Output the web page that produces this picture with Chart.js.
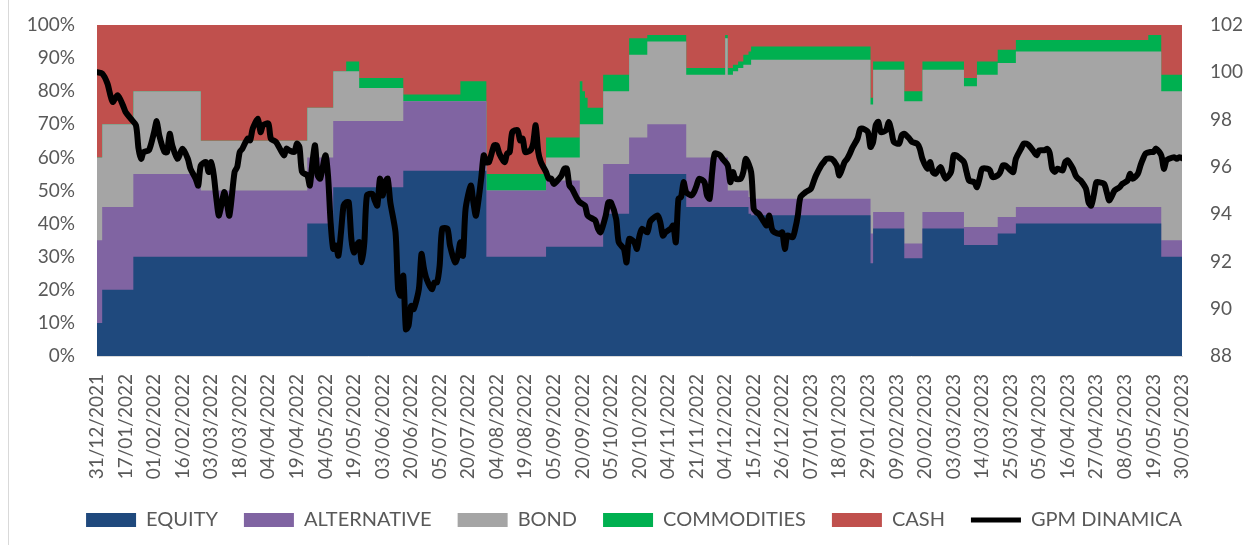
<!DOCTYPE html>
<html>
<head>
<meta charset="utf-8">
<title>GPM DINAMICA</title>
<script src="https://cdn.jsdelivr.net/npm/chart.js@4.4.1/dist/chart.umd.min.js"></script>
<style>
  html, body { margin: 0; padding: 0; background: #fff; }
  #wrap { position: relative; width: 1260px; height: 545px; }
  #wrap:before { content: ''; position: absolute; left: 8px; top: 0; bottom: 0; border-left: 1px solid #d9d9d9; }
</style>
</head>
<body>
<div id="wrap"><canvas id="chart" width="1260" height="545"></canvas></div>
<script>
// x axis labels, one every 11 observations
const tickLabels = ['31/12/2021', '17/01/2022', '01/02/2022', '16/02/2022', '03/03/2022', '18/03/2022',
  '04/04/2022', '19/04/2022', '04/05/2022', '19/05/2022', '03/06/2022', '20/06/2022', '05/07/2022',
  '20/07/2022', '04/08/2022', '19/08/2022', '05/09/2022', '20/09/2022', '05/10/2022', '20/10/2022',
  '04/11/2022', '21/11/2022', '04/12/2022', '15/12/2022', '26/12/2022', '07/01/2023', '18/01/2023',
  '29/01/2023', '09/02/2023', '20/02/2023', '03/03/2023', '14/03/2023', '25/03/2023', '05/04/2023',
  '16/04/2023', '27/04/2023', '08/05/2023', '19/05/2023', '30/05/2023'];
const tickStep = 11;
const lastObs = 418;

// allocation changes: observation index where a new weight set starts (%)
const stepObs     = [0, 2, 14, 40, 81, 91, 96, 101, 118, 140, 150, 173, 186, 187, 188, 189, 195, 205, 212, 227, 242, 243, 245, 247, 249, 251, 252, 298, 299, 311, 318, 334, 339, 347, 354, 405, 410, 418];
const equity      = [10, 20, 30, 30, 40, 51, 51, 51, 56, 56, 30, 33, 33, 33, 33, 33, 43, 55, 55, 45, 45, 45, 45, 45, 45, 43, 42.5, 28, 38.5, 29.5, 38.5, 33.5, 33.5, 37, 40, 40, 30, 30];
const alternative = [25, 25, 25, 20, 20, 20, 20, 20, 21, 21, 20, 20, 15, 15, 15, 15, 15, 11, 15, 15, 15, 5, 5, 5, 5, 5, 5, 9, 5, 4.5, 5, 5.5, 5.5, 5, 5, 5, 5, 5];
const bond        = [25, 25, 25, 15, 15, 15, 15, 10, 0, 0, 0, 7, 22, 22, 22, 22, 22, 25, 25, 25, 36, 35, 36, 37, 38, 40, 42, 39, 43, 43, 43, 42.5, 46, 46.5, 47, 47, 45, 45];
const commodities = [0, 0, 0, 0, 0, 0, 3, 3, 2, 6, 5, 6, 13, 10, 8, 5, 5, 5, 2, 2, 1, 2, 2, 2, 3, 4, 4, 2, 2.5, 3, 2.5, 2.5, 4, 4, 3.5, 5, 5, 5];
const cash        = [40, 30, 20, 35, 25, 14, 11, 16, 21, 17, 45, 34, 17, 20, 22, 25, 15, 4, 3, 13, 3, 13, 12, 11, 9, 8, 6.5, 22, 11, 20, 11, 16, 11, 7.5, 4.5, 3, 15, 15];

// GPM DINAMICA (right axis)
const gpmObs = [0, 2, 4, 6, 8, 10, 11, 13, 15, 16, 17, 18, 20, 22, 23, 24, 26, 27, 28, 29, 31, 33, 35, 36, 38, 39,
  40, 42, 43, 44, 45, 46, 47, 49, 50, 51, 53, 54, 55, 56, 58, 59, 60, 62, 63, 64, 66, 67, 69, 72, 73, 74, 76, 77,
  78, 79, 81, 82, 83, 84, 85, 86, 88, 89, 90, 91, 92, 93, 94, 95, 96, 97, 98, 99, 100, 101, 102, 103, 104, 106,
  107, 108, 109, 110, 111, 112, 113, 115, 116, 117, 118, 119, 120, 121, 122, 124, 125, 126, 127, 129, 130, 131,
  132, 133, 135, 136, 138, 139, 140, 141, 142, 144, 145, 146, 148, 149, 150, 151, 153, 154, 155, 157, 158, 159,
  160, 162, 163, 164, 165, 167, 168, 169, 170, 171, 173, 174, 175, 176, 178, 179, 180, 181, 182, 183, 185, 186,
  188, 189, 191, 192, 193, 194, 196, 197, 198, 200, 201, 203, 204, 205, 207, 208, 209, 210, 212, 213, 214, 216,
  217, 218, 219, 221, 222, 223, 224, 225, 226, 227, 229, 230, 231, 232, 234, 235, 236, 237, 238, 240, 241, 243,
  244, 245, 246, 248, 249, 250, 252, 253, 254, 255, 257, 258, 259, 260, 261, 263, 264, 265, 266, 268, 269, 270,
  271, 273, 275, 276, 277, 279, 280, 281, 283, 285, 286, 288, 289, 290, 291, 293, 294, 295, 297, 298, 299, 300,
  301, 302, 304, 305, 306, 307, 309, 310, 311, 313, 314, 316, 317, 318, 320, 321, 322, 323, 325, 326, 327, 329,
  330, 331, 332, 334, 335, 336, 338, 339, 340, 341, 343, 344, 345, 347, 348, 349, 350, 352, 353, 354, 356, 357,
  358, 359, 361, 362, 363, 365, 366, 367, 368, 369, 370, 372, 373, 374, 376, 377, 378, 379, 381, 382, 383, 384,
  385, 386, 388, 389, 390, 392, 393, 394, 395, 397, 398, 399, 401, 402, 403, 404, 406, 407, 408, 410, 411, 412,
  413, 415, 416, 417, 418];
const gpmValue = [100.0, 99.95, 99.53, 98.75, 99.03, 98.6, 98.32, 98.04, 97.76, 96.77, 96.34, 96.63, 96.7, 97.47,
  97.93, 97.33, 96.63, 96.63, 97.4, 96.91, 96.34, 96.77, 96.34, 95.92, 95.5, 95.21,
  96.06, 96.2, 95.78, 96.2, 95.64, 94.65, 93.94, 94.93, 94.5, 93.94, 95.78, 95.99, 96.63, 96.77, 97.19, 97.12,
  97.62, 98.04, 97.47, 97.76, 97.83, 97.19, 97.05, 96.49, 96.77, 96.7, 96.63, 96.98,
  96.84, 95.78, 95.64, 95.21, 96.2, 96.91, 95.64, 95.5, 96.49, 95.64, 93.66, 92.53, 92.67, 92.24, 93.23, 94.36,
  94.5, 94.5, 92.95, 92.38, 92.67, 92.81, 91.96, 92.81, 94.79, 94.86,
  94.58, 94.36, 95.5, 94.79, 95.35, 95.5, 94.5, 93.23, 90.83, 90.55, 91.39, 89.13, 89.27, 90.12, 89.98, 90.83,
  92.31, 91.68, 91.25, 90.83, 91.11, 91.11,
  91.82, 93.38, 93.38, 92.67, 91.96, 92.24, 92.81, 92.24, 94.22, 95.21, 94.5, 93.94, 95.5, 96.49, 96.2, 96.2,
  96.91, 96.91, 96.56, 96.2, 96.56, 96.63,
  97.47, 97.55, 97.12, 97.19, 96.63, 96.7, 96.98, 97.76, 96.63, 96.2, 95.78, 95.5, 95.5, 95.28, 95.5, 95.64,
  95.92, 95.92, 95.21, 95.07, 94.65, 94.5,
  94.36, 93.94, 93.8, 93.73, 93.38, 93.23, 93.94, 94.5, 94.5, 93.8, 92.81, 92.53, 91.96, 92.95, 92.81, 92.53,
  93.09, 93.38, 93.23, 93.66, 93.8, 93.94,
  93.66, 93.09, 93.23, 93.38, 93.52, 92.81, 94.65, 94.72, 95.35, 94.93, 94.79, 94.93, 95.21, 95.5, 95.35, 94.79,
  94.65, 95.78, 96.56, 96.49, 96.34, 96.06,
  95.35, 95.78, 95.5, 95.5, 95.78, 96.34, 95.78, 94.22, 94.08, 94.01, 93.66, 93.52, 93.94, 93.38, 93.23, 93.16,
  93.23, 92.53, 93.09, 93.02, 93.38, 93.94,
  94.72, 94.93, 95.07, 95.35, 95.64, 96.06, 96.2, 96.34, 96.34, 96.06, 95.64, 96.2, 96.34, 96.55, 96.8, 97.2,
  97.6, 97.62, 97.47, 96.84, 97.05, 97.76,
  97.9, 97.47, 97.55, 97.9, 97.55, 97.05, 96.98, 97.33, 97.4, 97.19, 97.05, 96.98, 96.77, 96.34, 95.92, 96.2,
  95.78, 95.71, 95.99, 95.71, 95.5, 95.78,
  96.49, 96.49, 96.41, 96.2, 95.78, 95.42, 95.35, 95.14, 95.5, 95.92, 95.92, 95.85, 95.57, 95.64, 95.78, 96.06,
  96.06, 95.85, 95.78, 96.34, 96.77, 96.98,
  96.98, 96.91, 96.63, 96.49, 96.7, 96.7, 96.77, 96.6, 95.92, 95.78, 95.92, 95.85, 96.2, 96.27, 95.92, 95.64,
  95.5, 95.42, 95.07, 94.5, 94.36, 94.79,
  95.35, 95.35, 95.28, 94.93, 94.58, 95.0, 95.07, 95.14, 95.28, 95.42, 95.71, 95.5, 95.71, 96.06, 96.34, 96.56,
  96.63, 96.63, 96.77, 96.49, 95.92, 96.27,
  96.34, 96.41, 96.34, 96.41, 96.37];

const seriesNames = ['EQUITY', 'ALTERNATIVE', 'BOND', 'COMMODITIES', 'CASH', 'GPM DINAMICA'];
const seriesColors = ['#1f497d', '#8064a2', '#a5a5a5', '#00b050', '#c0504d', '#000000'];

function toPoints(xs, ys) {
  return xs.map((x, i) => ({ x: x, y: ys[i] }));
}

const areaValues = [equity, alternative, bond, commodities, cash];
const datasets = areaValues.map((vals, i) => ({
  type: 'line',
  label: seriesNames[i],
  data: toPoints(stepObs, vals),
  yAxisID: 'y',
  stepped: true,
  fill: 'origin',
  backgroundColor: seriesColors[i],
  borderColor: seriesColors[i],
  borderWidth: 0,
  pointRadius: 0,
  order: 1
}));

datasets.push({
  type: 'line',
  label: seriesNames[5],
  data: toPoints(gpmObs, gpmValue),
  yAxisID: 'y1',
  fill: false,
  borderColor: seriesColors[5],
  backgroundColor: seriesColors[5],
  borderWidth: 6,
  borderJoinStyle: 'round',
  borderCapStyle: 'round',
  tension: 0.25,
  pointRadius: 0,
  order: 0
});

Chart.defaults.font.family = 'Lato, "Liberation Sans", sans-serif';
Chart.defaults.font.size = 19;
Chart.defaults.color = '#595959';

// keep the side axes at a fixed width and let the top label sit in the layout padding
function fixSideAxis(width) {
  return function (scale) {
    scale.width = width;
    scale.paddingTop = 0;
    scale.paddingBottom = 0;
  };
}

const ctx = document.getElementById('chart').getContext('2d');
const chart = new Chart(ctx, {
  type: 'line',
  data: { datasets: datasets },
  options: {
    responsive: false,
    animation: false,
    layout: { padding: { left: 25, right: 17, top: 25, bottom: 5 } },
    plugins: {
      tooltip: { enabled: false },
      legend: {
        position: 'bottom',
        labels: {
          usePointStyle: true,
          pointStyleWidth: 50,
          boxHeight: 14,
          padding: 26,
          font: { size: 20 },
          generateLabels: function (chart) {
            return chart.data.datasets.map((ds, i) => ({
              text: ds.label,
              fillStyle: ds.backgroundColor,
              strokeStyle: ds.borderColor,
              lineWidth: ds.fill ? 0 : 5,
              pointStyle: ds.fill ? 'rect' : 'line',
              fontColor: '#595959',
              hidden: false,
              datasetIndex: i
            }));
          }
        }
      }
    },
    scales: {
      x: {
        type: 'linear',
        min: 0,
        max: lastObs,
        grid: { display: true, drawOnChartArea: false, drawTicks: false },
        border: { display: true, color: '#d9d9d9', width: 1 },
        ticks: {
          stepSize: tickStep,
          autoSkip: false,
          maxRotation: 90,
          minRotation: 90,
          padding: 18,
          callback: function (v) {
            const k = Math.round(v / tickStep);
            return tickLabels[k] || '';
          }
        },
        afterFit: function (scale) { scale.height = 128; }
      },
      y: {
        stacked: true,
        min: 0,
        max: 100,
        grid: { display: false, drawTicks: false },
        border: { display: false },
        ticks: { stepSize: 10, padding: 22, callback: v => v + '%' },
        afterFit: fixSideAxis(72)
      },
      y1: {
        position: 'right',
        min: 88,
        max: 102,
        grid: { display: false, drawTicks: false },
        border: { display: false },
        ticks: { stepSize: 2, padding: 28 },
        afterFit: fixSideAxis(61)
      }
    }
  }
});
</script>
</body>
</html>
